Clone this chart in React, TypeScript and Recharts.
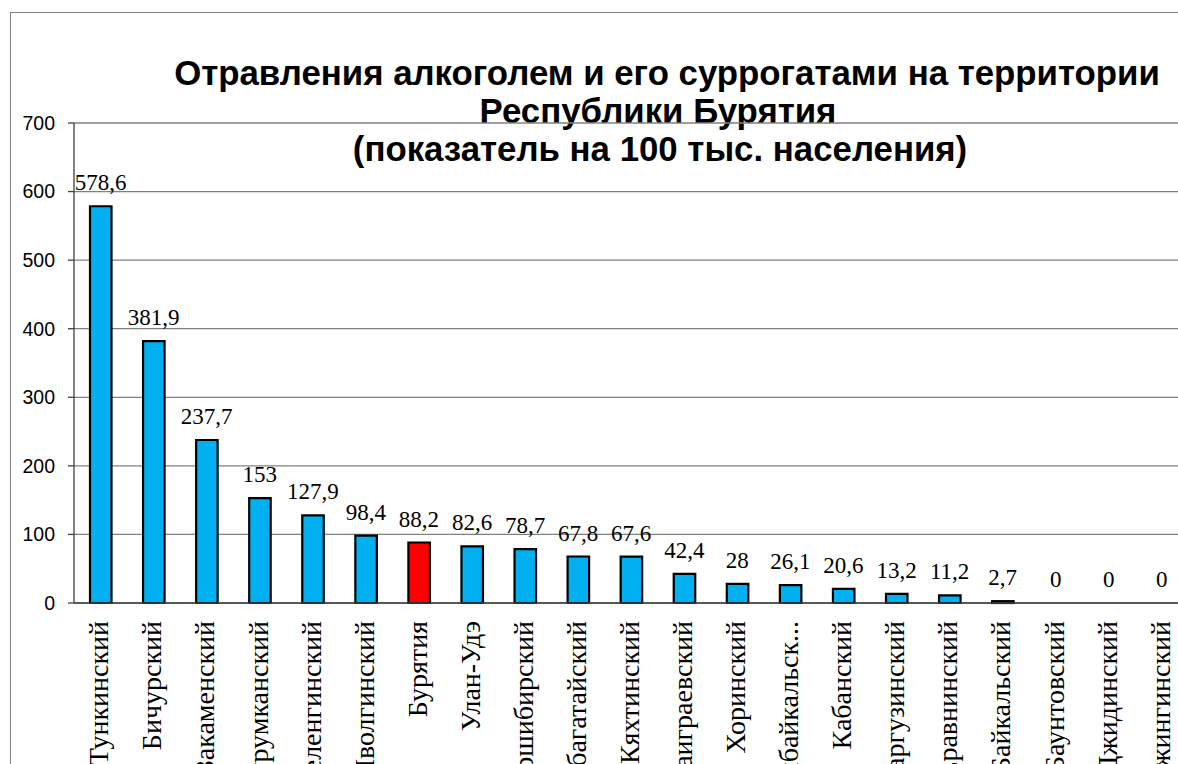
import React from "react";
import {
  ComposedChart,
  Bar,
  Line,
  XAxis,
  YAxis,
  CartesianGrid,
  Cell,
  LabelList,
} from "recharts";

const categories: string[] = [
  "Тункинский",
  "Бичурский",
  "Закаменский",
  "Курумканский",
  "Селенгинский",
  "Иволгинский",
  "Бурятия",
  "Улан-Удэ",
  "Мухоршибирский",
  "Тарбагатайский",
  "Кяхтинский",
  "Заиграевский",
  "Хоринский",
  "Прибайкальск...",
  "Кабанский",
  "Баргузинский",
  "Еравнинский",
  "Северо-Байкальский",
  "Баунтовский",
  "Джидинский",
  "Кижингинский",
];

const values: number[] = [
  578.6, 381.9, 237.7, 153, 127.9, 98.4, 88.2, 82.6, 78.7, 67.8, 67.6, 42.4, 28,
  26.1, 20.6, 13.2, 11.2, 2.7, 0, 0, 0,
];

const yTicks: number[] = [0, 100, 200, 300, 400, 500, 600, 700];
const highlighted = "Бурятия";

const titleLines: string[] = [
  "Отравления алкоголем и его суррогатами на территории",
  "Республики Бурятия",
  "(показатель на 100 тыс. населения)",
];

const data = categories.map((name, i) => ({ name, value: values[i] }));
const boundaryTicks = categories.map((_, i) => i).concat([categories.length]);

const SERIF = "'Liberation Serif', 'Times New Roman', serif";
const SANS = "'Liberation Sans', Arial, sans-serif";

const CatTick = (props: any) => {
  const { x, y, payload } = props;
  return (
    <text
      x={x}
      y={y}
      transform={`rotate(-90, ${x}, ${y})`}
      textAnchor="end"
      dy="0.28em"
      fontFamily={SERIF}
      fontSize={28}
      fill="#000"
    >
      {payload.value}
    </text>
  );
};

const fmt = (v: any) => String(v).replace(".", ",");

const titleStyle = {
  fontFamily: SANS,
  fontWeight: "bold" as const,
  fontSize: 34.8,
  fill: "#000",
};

export default function App() {
  return (
    <div
      style={{
        position: "absolute",
        left: 0,
        top: 0,
        width: 1178,
        height: 764,
        overflow: "hidden",
        background: "#fff",
      }}
    >
      <div
        style={{
          position: "absolute",
          left: 10,
          top: 12,
          width: 1300,
          height: 900,
          border: "1.5px solid #808080",
          boxSizing: "border-box",
        }}
      />
      <svg
        width={1178}
        height={200}
        style={{ position: "absolute", left: 0, top: 0 }}
      >
        <text x={667} y={85} textAnchor="middle" style={titleStyle}>
          {titleLines[0]}
        </text>
        <text x={658} y={123} textAnchor="middle" style={titleStyle}>
          {titleLines[1]}
        </text>
        <text x={660} y={161} textAnchor="middle" style={titleStyle}>
          {titleLines[2]}
        </text>
      </svg>
      <div style={{ position: "absolute", left: 0, top: 0 }}>
        <ComposedChart
          width={1240}
          height={900}
          data={data}
          margin={{ top: 123, right: 51.6, bottom: 0, left: 0 }}
        >
          <CartesianGrid
            vertical={false}
            stroke="#808080"
            strokeWidth={1.3}
            xAxisId="c"
          />
          <XAxis
            xAxisId="b"
            type="number"
            domain={[0, categories.length]}
            ticks={boundaryTicks}
            interval={0}
            tick={false}
            tickSize={9}
            tickLine={{ stroke: "#404040", strokeWidth: 1.3 }}
            axisLine={false}
            height={0}
            allowDataOverflow
          />
          <XAxis
            xAxisId="c"
            dataKey="name"
            type="category"
            interval={0}
            tickSize={0}
            tickMargin={18}
            tickLine={false}
            axisLine={{ stroke: "#404040", strokeWidth: 1.3 }}
            tick={<CatTick />}
            height={297}
          />
          <YAxis
            domain={[0, 700]}
            ticks={yTicks}
            interval={0}
            width={74}
            tickSize={6}
            tickMargin={13}
            axisLine={{ stroke: "#404040", strokeWidth: 1.3 }}
            tickLine={{ stroke: "#404040", strokeWidth: 1.3 }}
            tick={{ fontFamily: SANS, fontSize: 19.5, fill: "#000" }}
          />
          <Bar
            xAxisId="c"
            dataKey="value"
            barSize={21.5}
            stroke="#000"
            strokeWidth={2.2}
            isAnimationActive={false}
          >
            {data.map((d, i) => (
              <Cell
                key={i}
                fill={d.name === highlighted ? "#FF0000" : "#00B0F0"}
              />
            ))}
          </Bar>
          <Line
            xAxisId="c"
            dataKey="value"
            stroke="none"
            dot={false}
            activeDot={false}
            legendType="none"
            isAnimationActive={false}
          >
            <LabelList
              dataKey="value"
              position="top"
              offset={16}
              formatter={fmt}
              style={{ fontFamily: SERIF, fontSize: 23, fill: "#000" }}
            />
          </Line>
        </ComposedChart>
      </div>
    </div>
  );
}
